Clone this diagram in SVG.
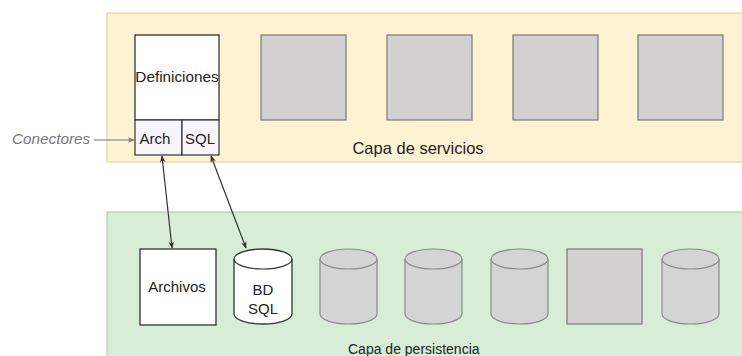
<svg xmlns="http://www.w3.org/2000/svg" width="742" height="356" viewBox="0 0 742 356">
  <style>
    .t { font-family: "Liberation Sans", Arial, sans-serif; fill: #222; }
    .box { fill: #ffffff; stroke: #333; stroke-width: 1.3; }
    .gray { fill: #d2d0d0; stroke: #7a7a7a; stroke-width: 1.2; }
    .gcyl { fill: #d4d4d4; stroke: #8a8a8a; stroke-width: 1.2; }
    .conn { stroke: #333; stroke-width: 1.2; fill: none; }
  </style>
  <defs>
    <marker id="ah" viewBox="0 0 10 10" refX="9" refY="5" markerWidth="7" markerHeight="7" orient="auto-start-reverse" markerUnits="userSpaceOnUse">
      <path d="M0,1 L10,5 L0,9 L3,5 Z" fill="#333"/>
    </marker>
    <marker id="ahg" viewBox="0 0 10 10" refX="9" refY="5" markerWidth="7" markerHeight="7" orient="auto" markerUnits="userSpaceOnUse">
      <path d="M0,1 L10,5 L0,9 L3,5 Z" fill="#777"/>
    </marker>
  </defs>
  <rect width="742" height="356" fill="#ffffff"/>

  <g id="capa-servicios">
    <rect x="107" y="13" width="640" height="149" fill="#fdf2d1" stroke="#e3d59c" stroke-width="1.2"/>
    <text class="t" x="418" y="154" font-size="16.5" text-anchor="middle">Capa de servicios</text>
  </g>
  <g id="capa-persistencia">
    <rect x="107" y="212" width="640" height="150" fill="#d8edd5" stroke="#b3d3ab" stroke-width="1.2"/>
    <text class="t" x="348" y="354" font-size="14">Capa de persistencia</text>
  </g>

  <g id="definiciones">
    <rect class="box" x="135" y="35" width="84" height="85"/>
    <text class="t" x="177" y="82" font-size="15.3" text-anchor="middle">Definiciones</text>
  </g>
  <g id="arch">
    <rect x="135" y="120" width="47" height="35" fill="#f7f5fa" stroke="#333" stroke-width="1.2"/>
    <text class="t" x="155" y="144" font-size="15" text-anchor="middle">Arch</text>
  </g>
  <g id="sql">
    <rect x="182" y="120" width="37" height="35" fill="#f7f5fa" stroke="#333" stroke-width="1.2"/>
    <text class="t" x="200" y="144" font-size="15" text-anchor="middle">SQL</text>
  </g>

  <g id="servicio-1"><rect class="gray" x="261" y="35" width="85" height="85"/></g>
  <g id="servicio-2"><rect class="gray" x="387" y="35" width="85" height="85"/></g>
  <g id="servicio-3"><rect class="gray" x="513" y="35" width="85" height="85"/></g>
  <g id="servicio-4"><rect class="gray" x="638" y="35" width="85" height="85"/></g>

  <g id="conectores-label">
    <text x="12" y="144" font-family="'Liberation Sans', Arial, sans-serif" font-style="italic" font-size="15.3" fill="#777">Conectores</text>
  </g>

  <g id="archivos">
    <rect class="box" x="140" y="249" width="76" height="76"/>
    <text class="t" x="177" y="292" font-size="15" text-anchor="middle">Archivos</text>
  </g>
  <g id="bd-sql">
    <path class="box" d="M234,259 a29,10 0 0 1 58,0 v55 a29,10 0 0 1 -58,0 Z"/>
    <path class="conn" d="M234,259 a29,10 0 0 0 58,0"/>
    <text class="t" x="263" y="295" font-size="15" text-anchor="middle">BD</text>
    <text class="t" x="263" y="314" font-size="15" text-anchor="middle">SQL</text>
  </g>
  <g id="bd-1">
    <path class="gcyl" d="M320,259 a28.5,10 0 0 1 57,0 v55 a28.5,10 0 0 1 -57,0 Z"/>
    <path fill="none" stroke="#8a8a8a" stroke-width="1.2" d="M320,259 a28.5,10 0 0 0 57,0"/>
  </g>
  <g id="bd-2">
    <path class="gcyl" d="M405,259 a28.5,10 0 0 1 57,0 v55 a28.5,10 0 0 1 -57,0 Z"/>
    <path fill="none" stroke="#8a8a8a" stroke-width="1.2" d="M405,259 a28.5,10 0 0 0 57,0"/>
  </g>
  <g id="bd-3">
    <path class="gcyl" d="M491,259 a28.5,10 0 0 1 57,0 v55 a28.5,10 0 0 1 -57,0 Z"/>
    <path fill="none" stroke="#8a8a8a" stroke-width="1.2" d="M491,259 a28.5,10 0 0 0 57,0"/>
  </g>
  <g id="almacen"><rect class="gray" x="567" y="249" width="75" height="75"/></g>
  <g id="bd-4">
    <path class="gcyl" d="M662,259 a28.5,10 0 0 1 57,0 v55 a28.5,10 0 0 1 -57,0 Z"/>
    <path fill="none" stroke="#8a8a8a" stroke-width="1.2" d="M662,259 a28.5,10 0 0 0 57,0"/>
  </g>

  <g id="connectors">
    <line x1="94" y1="140" x2="134" y2="140" stroke="#777" stroke-width="1.2" marker-end="url(#ahg)"/>
    <line class="conn" x1="162" y1="156" x2="172" y2="248" marker-start="url(#ah)" marker-end="url(#ah)"/>
    <line class="conn" x1="211" y1="156" x2="246" y2="248" marker-start="url(#ah)" marker-end="url(#ah)"/>
  </g>
</svg>
